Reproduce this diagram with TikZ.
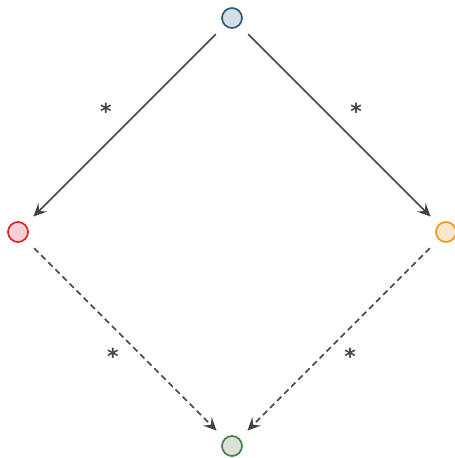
\documentclass[tikz,border=0pt]{standalone}
\usepackage{fontspec}
\setmainfont{DejaVu Sans}
\usetikzlibrary{arrows.meta}
\definecolor{topline}{HTML}{2E5A7E}
\definecolor{topfill}{HTML}{D5DEE6}
\definecolor{leftline}{HTML}{D62728}
\definecolor{leftfill}{HTML}{F9D0D3}
\definecolor{rightline}{HTML}{EE9A1C}
\definecolor{rightfill}{HTML}{FDE6C9}
\definecolor{botline}{HTML}{4A7F4A}
\definecolor{botfill}{HTML}{D9E3D9}
\definecolor{edgegray}{HTML}{444444}
\begin{document}
\begin{tikzpicture}[
  x=1pt, y=-1pt,
  every node/.style={font=\fontsize{22}{22}\selectfont\bfseries},
  vert/.style={circle, draw, line width=1.7pt, minimum size=20pt, inner sep=0pt},
  rel/.style={-{Stealth[length=13pt, width=12pt, inset=5pt]}, line width=1.6pt, edgegray,
    shorten <=12pt, shorten >=11pt},
  drel/.style={rel, dash pattern=on 6pt off 4pt},
  rlabel/.style={text=edgegray, inner sep=0pt, anchor=center}
]
\useasboundingbox (0,0) rectangle (455,458);

% Vertices
\node[vert, draw=topline, fill=topfill] (top) at (232,18) {};
\node[vert, draw=leftline, fill=leftfill] (left) at (18,232) {};
\node[vert, draw=rightline, fill=rightfill] (right) at (446,232) {};
\node[vert, draw=botline, fill=botfill] (bot) at (232,446) {};

% Edges
\draw[rel] (top) -- (left);
\draw[rel] (top) -- (right);
\draw[drel] (left) -- (bot);
\draw[drel] (right) -- (bot);

% Labels
\node[rlabel] (l1) at (106,111) {*};
\node[rlabel] (l2) at (356,111) {*};
\node[rlabel] (l3) at (113,356) {*};
\node[rlabel] (l4) at (350,356) {*};

\end{tikzpicture}
\end{document}
